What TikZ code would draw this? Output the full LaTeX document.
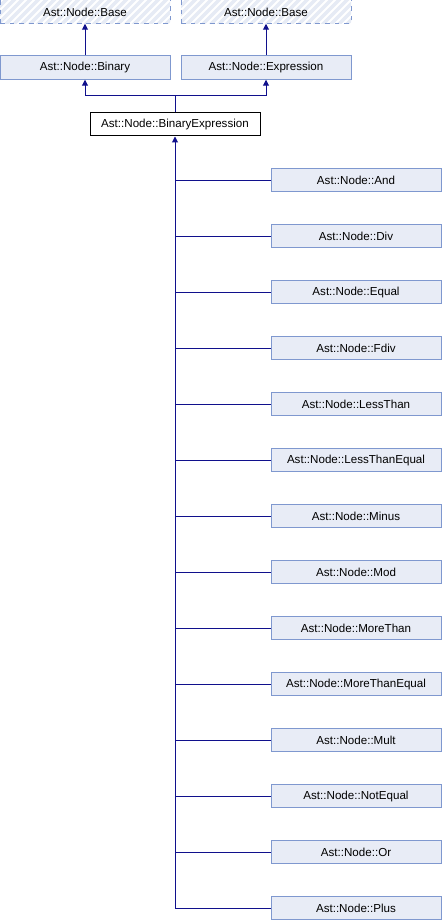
\documentclass[tikz,border=0pt]{standalone}
\usepackage{fontspec}
\setmainfont{Liberation Sans}
\usetikzlibrary{arrows.meta}
\definecolor{boxfill}{HTML}{E8ECF6}
\definecolor{boxdraw}{HTML}{7F98CF}
\definecolor{hatch}{HTML}{E6EBF5}
\definecolor{edge}{HTML}{10108C}
\tikzset{
  every node/.style={font=\fontsize{8.7}{10}\selectfont, inner sep=0pt},
  cls/.style={draw=boxdraw, fill=boxfill, line width=0.75pt, minimum width=127.5pt, minimum height=17.6pt},
  mainbox/.style={draw=black, fill=white, line width=0.75pt, minimum width=127.5pt, minimum height=17.25pt},
  basebox/.style={draw=boxdraw, dashed, dash pattern=on 3.6pt off 3.6pt, line width=0.75pt, minimum width=127.5pt, minimum height=18pt},
  conn/.style={draw=edge, line width=0.75pt},
  arr/.style={conn, -{Triangle[length=4.5pt,width=4.5pt]}},
}
\begin{document}
\begin{tikzpicture}[x=0.75pt,y=-0.75pt]
\useasboundingbox (0,0) rectangle (442,920);
% hatched base boxes
\foreach \xo in {0,181}{
  \begin{scope}
    \clip (\xo,-1) rectangle (\xo+170,23.5);
    \fill[white] (\xo,-1) rectangle (\xo+170,23.5);
    \foreach \k in {-40,-32,...,200}{
      \draw[hatch, line width=2.4pt] (\xo+\k,30) -- (\xo+\k+35,-5);
    }
  \end{scope}
}
\node[basebox] (base1) at (85,11.25) {};
\node[basebox] (base2) at (266,11.25) {};
\node at (85,12) {Ast::Node::Base};
\node at (266,12) {Ast::Node::Base};
\node[cls] (binary) at (85,67.5) {Ast::Node::Binary};
\node[cls] (expr) at (266,67.5) {Ast::Node::Expression};
\node[mainbox] (bexp) at (175,124.5) {Ast::Node::BinaryExpression};
\coordinate (j) at (175,96);
\draw[arr] (binary.north) -- (base1.south);
\draw[arr] (expr.north) -- (base2.south);
\draw[arr] (bexp.north) -- (j) -| (binary.south);
\draw[arr] (j) -| (expr.south);
\foreach \nm/\txt [count=\i from 0] in {and/And,div/Div,equal/Equal,fdiv/Fdiv,lt/LessThan,lte/LessThanEqual,minus/Minus,mod/Mod,mt/MoreThan,mte/MoreThanEqual,mult/Mult,ne/NotEqual,or/Or,plus/Plus}{
  \node[cls] (\nm) at (356,180+56*\i) {Ast::Node::\txt};
}
\draw[arr] (plus.west) -| (bexp.south);
\foreach \nm in {and,div,equal,fdiv,lt,lte,minus,mod,mt,mte,mult,ne,or}{
  \draw[conn] (\nm.west) -- (\nm.west -| bexp.south);
}
\end{tikzpicture}
\end{document}
